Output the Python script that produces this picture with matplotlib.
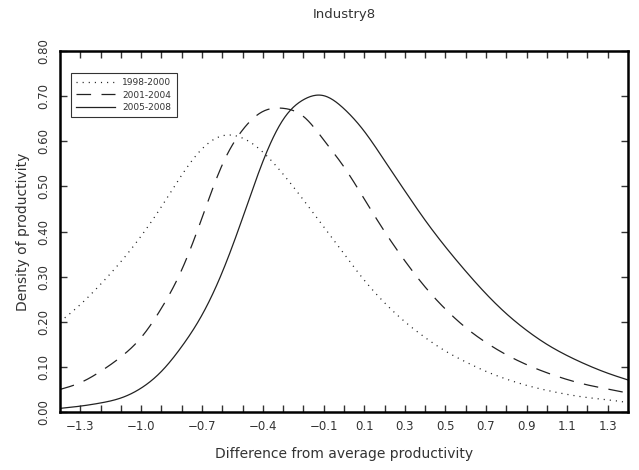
import matplotlib
matplotlib.use("Agg")
import matplotlib.pyplot as plt
import numpy as np

plt.rcParams['font.family'] = ['DejaVu Sans']
plt.rcParams['lines.scale_dashes'] = False

# Data
x_vals = [-1.4, -1.3, -1.2, -1.1, -1.0, -0.9, -0.8, -0.7, -0.6, -0.5, -0.4, -0.3,
          -0.2, -0.1, 0.0, 0.1, 0.2, 0.3, 0.4, 0.5, 0.6, 0.7, 0.8, 0.9, 1.0, 1.1,
          1.2, 1.3, 1.4]
dens_1998 = [0.20, 0.238, 0.283, 0.333, 0.39, 0.455, 0.525, 0.583, 0.612, 0.607, 0.576, 0.527,
             0.47, 0.41, 0.35, 0.292, 0.242, 0.20, 0.165, 0.135, 0.111, 0.09, 0.073, 0.059,
             0.048, 0.039, 0.032, 0.027, 0.021]
dens_2001 = [0.05, 0.065, 0.09, 0.122, 0.165, 0.23, 0.315, 0.43, 0.548, 0.625, 0.666, 0.673,
             0.655, 0.603, 0.543, 0.472, 0.40, 0.335, 0.277, 0.228, 0.187, 0.154, 0.127, 0.105,
             0.087, 0.072, 0.06, 0.051, 0.042]
dens_2005 = [0.008, 0.013, 0.02, 0.031, 0.053, 0.09, 0.145, 0.215, 0.31, 0.43, 0.555, 0.648,
             0.692, 0.701, 0.672, 0.622, 0.557, 0.49, 0.425, 0.366, 0.312, 0.262, 0.218, 0.181,
             0.15, 0.125, 0.104, 0.086, 0.071]
series_labels = ["1998-2000", "2001-2004", "2005-2008"]

x_tick_pos = [round(-1.3 + 0.1 * i, 1) for i in range(27)]
x_label_vals = [-1.3, -1.0, -0.7, -0.4, -0.1, 0.1, 0.3, 0.5, 0.7, 0.9, 1.1, 1.3]
y_label_vals = [0.0, 0.1, 0.2, 0.3, 0.4, 0.5, 0.6, 0.7, 0.8]

title = "Industry8"
xlabel = "Difference from average productivity"
ylabel = "Density of productivity"


def spline(xk, yk, xq):
    xk = np.asarray(xk, float); yk = np.asarray(yk, float)
    n = len(xk)
    h = np.diff(xk)
    A = np.zeros((n, n)); b = np.zeros(n)
    A[0, 0] = 1; A[-1, -1] = 1
    for i in range(1, n - 1):
        A[i, i - 1] = h[i - 1]; A[i, i] = 2 * (h[i - 1] + h[i]); A[i, i + 1] = h[i]
        b[i] = 3 * ((yk[i + 1] - yk[i]) / h[i] - (yk[i] - yk[i - 1]) / h[i - 1])
    c = np.linalg.solve(A, b)
    bb = (yk[1:] - yk[:-1]) / h - h * (2 * c[:-1] + c[1:]) / 3
    d = (c[1:] - c[:-1]) / (3 * h)
    idx = np.clip(np.searchsorted(xk, xq) - 1, 0, n - 2)
    dx = xq - xk[idx]
    return yk[idx] + bb[idx] * dx + c[idx] * dx**2 + d[idx] * dx**3


fig = plt.figure(figsize=(6.39, 4.70), dpi=100)
ax = fig.add_axes([60/639, 1-412/470, 568/639, 361/470])

xs = np.linspace(-1.4, 1.4, 600)
col = '#222222'
ax.plot(xs, spline(x_vals, dens_1998, xs), color=col, lw=0.9,
        linestyle=(0, (0.8, 3.6)), label=series_labels[0])
ax.plot(xs, spline(x_vals, dens_2001, xs), color=col, lw=0.9,
        linestyle=(0, (10.5, 7.5)), label=series_labels[1])
ax.plot(xs, spline(x_vals, dens_2005, xs), color=col, lw=0.9,
        linestyle='-', label=series_labels[2])

ax.set_xlim(-1.4, 1.4)
ax.set_ylim(0, 0.8)

ax.set_xticks(x_tick_pos)
ax.set_xticklabels([("%.1f" % v if any(abs(v - w) < 1e-9 for w in x_label_vals) else "")
                    .replace("-", "\u2212") for v in x_tick_pos])
ax.set_yticks(y_label_vals)
ax.set_yticklabels(["%.2f" % v for v in y_label_vals], rotation=90, va='center')

ax.tick_params(axis='both', direction='in', length=5, width=1.0, color='#333333',
               top=True, right=True, labelsize=8.5, labelcolor='#333333')
ax.tick_params(axis='x', pad=6)
ax.tick_params(axis='y', pad=7)
for s in ax.spines.values():
    s.set_linewidth(1.8)
    s.set_color('black')

ax.set_title(title, fontsize=9.5, color='#333333', pad=24)
ax.set_xlabel(xlabel, fontsize=10, color='#333333', labelpad=10)
ax.set_ylabel(ylabel, fontsize=10, color='#333333', labelpad=5)

leg = ax.legend(loc='upper left', bbox_to_anchor=(0.019, 0.939), borderaxespad=0,
                fontsize=6.5, frameon=True, fancybox=False, handlelength=4.3,
                handletextpad=0.8, borderpad=0.6, labelspacing=0.35)
leg.get_frame().set_edgecolor('black')
leg.get_frame().set_linewidth(0.8)
for t in leg.get_texts():
    t.set_color('#333333')

fig.savefig("out.png", dpi=100)
